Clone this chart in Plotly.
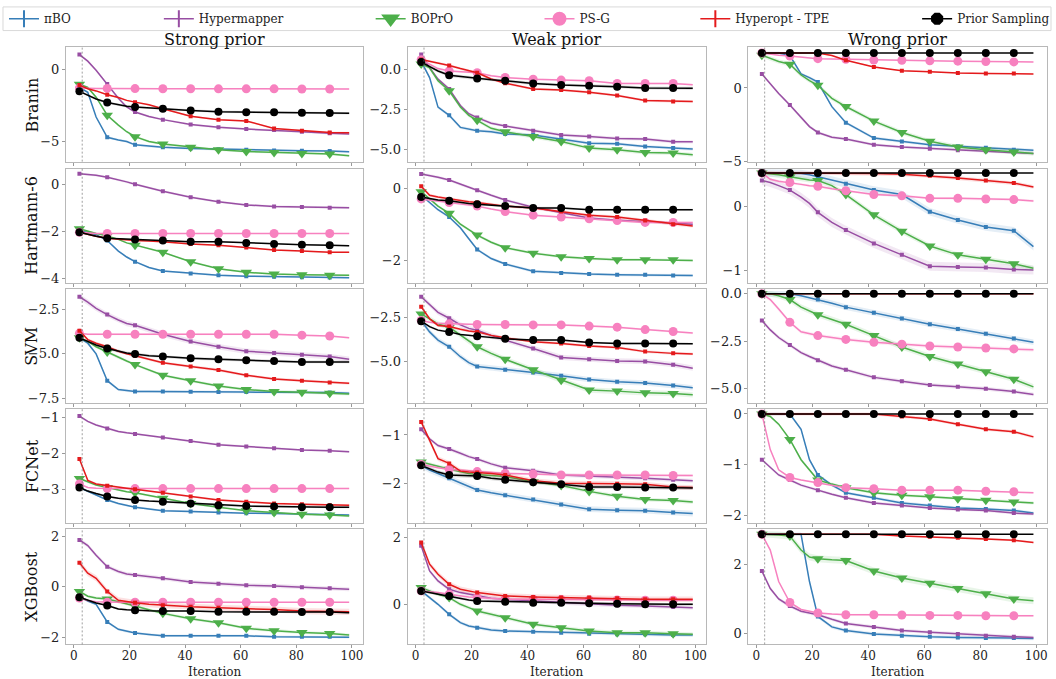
import plotly.graph_objects as go

# ---------------- data ----------------
X = [2, 5, 8, 12, 16, 19, 22, 27, 32, 42, 52, 62, 72, 82, 92, 99]
MARKER_X = [2, 12, 22, 32, 42, 52, 62, 72, 82, 92]

SERIES = ["πBO", "Hypermapper", "BOPrO", "PS-G", "Hyperopt - TPE", "Prior Sampling"]
ROW_NAMES = ["Branin", "Hartmann-6", "SVM", "FCNet", "XGBoost"]
COL_NAMES = ["Strong prior", "Weak prior", "Wrong prior"]

branin_strong = {
    "πBO": [-1.26, -1.6, -3.29, -4.68, -4.86, -4.97, -5.2, -5.3, -5.36, -5.45, -5.5, -5.54, -5.59, -5.61, -5.63, -5.68],
    "Hypermapper": [0.99, 0.54, -0.09, -1.03, -2.0, -2.6, -2.95, -3.25, -3.47, -3.81, -4.0, -4.12, -4.19, -4.3, -4.41, -4.45],
    "BOPrO": [-1.04, -1.26, -1.93, -3.17, -3.85, -4.3, -4.64, -4.97, -5.14, -5.36, -5.54, -5.66, -5.72, -5.79, -5.82, -5.95],
    "PS-G": [-1.3, -1.33, -1.33, -1.33, -1.34, -1.34, -1.34, -1.35, -1.35, -1.35, -1.36, -1.36, -1.36, -1.37, -1.37, -1.37],
    "Hyperopt - TPE": [-1.1, -1.35, -1.5, -1.76, -1.95, -2.15, -2.27, -2.45, -2.72, -3.24, -3.47, -3.56, -4.08, -4.23, -4.35, -4.37],
    "Prior Sampling": [-1.53, -1.8, -2.05, -2.3, -2.45, -2.55, -2.61, -2.68, -2.72, -2.84, -2.93, -2.97, -2.97, -3.0, -3.02, -3.03],
}
branin_weak = {
    "πBO": [0.5, -0.51, -2.35, -2.86, -3.61, -3.73, -3.82, -3.88, -4.02, -4.08, -4.35, -4.59, -4.63, -4.8, -4.9, -4.96],
    "Hypermapper": [0.92, 0.1, -0.61, -1.22, -2.25, -2.76, -3.0, -3.35, -3.53, -3.82, -4.08, -4.18, -4.3, -4.34, -4.51, -4.51],
    "BOPrO": [0.34, 0.1, -0.71, -1.33, -2.35, -2.86, -3.17, -3.67, -3.88, -4.18, -4.49, -4.9, -5.0, -5.17, -5.21, -5.31],
    "PS-G": [0.6, 0.3, 0.05, -0.1, -0.15, -0.18, -0.21, -0.4, -0.51, -0.61, -0.67, -0.71, -0.88, -0.88, -0.88, -0.96],
    "Hyperopt - TPE": [0.61, 0.5, 0.4, 0.24, 0.05, -0.1, -0.21, -0.6, -0.86, -1.22, -1.29, -1.43, -1.63, -1.94, -2.0, -2.0],
    "Prior Sampling": [0.45, 0.2, -0.1, -0.37, -0.45, -0.52, -0.57, -0.65, -0.71, -0.88, -0.98, -1.02, -1.08, -1.16, -1.16, -1.18],
}
branin_wrong = {
    "πBO": [2.38, 2.38, 2.38, 2.2, 0.95, 0.7, 0.4, -1.27, -2.36, -3.4, -3.64, -3.86, -3.95, -4.06, -4.19, -4.23],
    "Hypermapper": [0.95, 0.29, -0.37, -1.15, -2.03, -2.62, -3.02, -3.35, -3.46, -3.86, -4.01, -4.12, -4.23, -4.3, -4.39, -4.45],
    "BOPrO": [2.23, 2.0, 1.8, 1.61, 0.88, 0.5, 0.18, -0.7, -1.26, -2.25, -3.02, -3.62, -4.01, -4.19, -4.34, -4.45],
    "PS-G": [2.38, 2.3, 2.22, 2.17, 2.08, 2.03, 1.99, 1.97, 1.95, 1.9, 1.88, 1.84, 1.82, 1.8, 1.77, 1.77],
    "Hyperopt - TPE": [2.38, 2.38, 2.38, 2.38, 2.38, 2.38, 2.38, 2.2, 1.88, 1.43, 1.17, 1.1, 1.01, 0.99, 0.99, 0.95],
    "Prior Sampling": [2.38, 2.38, 2.38, 2.38, 2.38, 2.38, 2.38, 2.38, 2.38, 2.38, 2.38, 2.38, 2.38, 2.38, 2.38, 2.38],
}
hartmann_strong = {
    "πBO": [-2.0, -2.05, -2.15, -2.4, -2.85, -3.1, -3.3, -3.55, -3.7, -3.8, -3.88, -3.92, -3.94, -3.96, -3.97, -3.98],
    "Hypermapper": [0.45, 0.42, 0.38, 0.3, 0.2, 0.1, 0.0, -0.15, -0.3, -0.55, -0.75, -0.88, -0.95, -0.97, -1.0, -1.0],
    "BOPrO": [-1.9, -2.0, -2.1, -2.2, -2.35, -2.5, -2.6, -2.75, -2.9, -3.3, -3.6, -3.75, -3.83, -3.86, -3.88, -3.88],
    "PS-G": [-2.05, -2.08, -2.1, -2.1, -2.1, -2.1, -2.1, -2.1, -2.1, -2.1, -2.1, -2.1, -2.1, -2.1, -2.1, -2.1],
    "Hyperopt - TPE": [-2.05, -2.15, -2.22, -2.3, -2.35, -2.38, -2.4, -2.42, -2.45, -2.55, -2.6, -2.7, -2.8, -2.85, -2.9, -2.9],
    "Prior Sampling": [-2.05, -2.15, -2.22, -2.3, -2.32, -2.34, -2.35, -2.38, -2.4, -2.45, -2.45, -2.5, -2.55, -2.58, -2.6, -2.62],
}
hartmann_weak = {
    "πBO": [-0.2, -0.4, -0.6, -0.8, -1.1, -1.4, -1.7, -1.95, -2.1, -2.3, -2.35, -2.38, -2.4, -2.4, -2.42, -2.42],
    "Hypermapper": [0.39, 0.35, 0.3, 0.22, 0.1, 0.02, -0.06, -0.2, -0.33, -0.53, -0.67, -0.83, -0.89, -0.94, -0.97, -1.0],
    "BOPrO": [-0.1, -0.3, -0.5, -0.7, -1.0, -1.15, -1.3, -1.5, -1.65, -1.8, -1.9, -1.95, -1.98, -1.98, -1.98, -2.0],
    "PS-G": [-0.3, -0.33, -0.37, -0.4, -0.45, -0.48, -0.5, -0.58, -0.65, -0.75, -0.8, -0.85, -0.9, -0.95, -0.95, -0.95],
    "Hyperopt - TPE": [0.05, -0.2, -0.25, -0.3, -0.35, -0.38, -0.4, -0.45, -0.5, -0.55, -0.65, -0.75, -0.8, -0.9, -1.0, -1.05],
    "Prior Sampling": [-0.25, -0.3, -0.33, -0.35, -0.4, -0.43, -0.45, -0.48, -0.5, -0.55, -0.55, -0.6, -0.6, -0.6, -0.6, -0.6],
}
hartmann_wrong = {
    "πBO": [0.53, 0.53, 0.53, 0.53, 0.52, 0.5, 0.47, 0.42, 0.36, 0.26, 0.19, -0.08, -0.21, -0.32, -0.38, -0.63],
    "Hypermapper": [0.41, 0.38, 0.33, 0.26, 0.15, 0.05, -0.09, -0.25, -0.37, -0.58, -0.76, -0.94, -0.95, -0.96, -0.99, -1.0],
    "BOPrO": [0.53, 0.52, 0.5, 0.47, 0.44, 0.42, 0.41, 0.33, 0.19, -0.13, -0.39, -0.62, -0.76, -0.83, -0.9, -0.97],
    "PS-G": [0.53, 0.43, 0.4, 0.38, 0.35, 0.33, 0.32, 0.28, 0.25, 0.19, 0.17, 0.13, 0.13, 0.12, 0.11, 0.09],
    "Hyperopt - TPE": [0.53, 0.53, 0.53, 0.53, 0.53, 0.53, 0.53, 0.53, 0.53, 0.52, 0.51, 0.485, 0.45, 0.41, 0.37, 0.31],
    "Prior Sampling": [0.53, 0.53, 0.53, 0.53, 0.53, 0.53, 0.53, 0.53, 0.53, 0.53, 0.53, 0.53, 0.53, 0.53, 0.53, 0.53],
}
svm_strong = {
    "πBO": [-4.1, -4.4, -5.0, -6.5, -7.0, -7.05, -7.1, -7.1, -7.1, -7.12, -7.13, -7.14, -7.15, -7.15, -7.16, -7.2],
    "Hypermapper": [-1.8, -2.1, -2.45, -2.8, -3.1, -3.3, -3.4, -3.65, -3.9, -4.3, -4.6, -4.85, -4.95, -5.05, -5.15, -5.3],
    "BOPrO": [-4.1, -4.3, -4.6, -4.9, -5.2, -5.4, -5.6, -5.9, -6.2, -6.5, -6.8, -7.0, -7.1, -7.15, -7.2, -7.25],
    "PS-G": [-3.85, -3.9, -3.9, -3.9, -3.9, -3.9, -3.9, -3.9, -3.9, -3.9, -3.9, -3.9, -3.9, -3.95, -4.0, -4.1],
    "Hyperopt - TPE": [-3.7, -4.2, -4.4, -4.6, -4.85, -5.0, -5.1, -5.3, -5.5, -5.7, -5.9, -6.2, -6.4, -6.5, -6.6, -6.65],
    "Prior Sampling": [-4.1, -4.3, -4.5, -4.7, -4.85, -4.95, -5.0, -5.1, -5.15, -5.25, -5.3, -5.35, -5.4, -5.45, -5.45, -5.45],
}
svm_weak = {
    "πBO": [-2.65, -3.3, -3.77, -4.15, -4.72, -5.06, -5.28, -5.36, -5.47, -5.62, -5.81, -6.03, -6.16, -6.22, -6.37, -6.5],
    "Hypermapper": [-1.29, -1.71, -2.18, -2.52, -2.9, -3.1, -3.21, -3.5, -3.77, -4.25, -4.76, -4.87, -4.96, -4.99, -5.18, -5.38],
    "BOPrO": [-2.27, -2.55, -2.84, -3.03, -3.49, -3.85, -4.15, -4.53, -4.87, -5.47, -6.07, -6.63, -6.69, -6.79, -6.82, -6.9],
    "PS-G": [-2.65, -2.75, -2.8, -2.84, -2.86, -2.87, -2.88, -2.88, -2.88, -2.9, -2.9, -2.97, -3.03, -3.17, -3.28, -3.37],
    "Hyperopt - TPE": [-1.86, -2.55, -2.93, -2.99, -3.15, -3.25, -3.3, -3.5, -3.64, -3.87, -3.96, -4.11, -4.19, -4.43, -4.53, -4.56],
    "Prior Sampling": [-2.69, -3.0, -3.2, -3.3, -3.45, -3.5, -3.55, -3.65, -3.7, -3.77, -3.77, -3.91, -3.96, -3.96, -3.96, -3.98],
}
svm_wrong = {
    "πBO": [0.0, 0.0, 0.0, 0.0, -0.1, -0.2, -0.3, -0.5, -0.7, -1.0, -1.3, -1.6, -1.85, -2.1, -2.35, -2.55],
    "Hypermapper": [-1.4, -1.9, -2.3, -2.7, -3.1, -3.3, -3.5, -3.8, -4.0, -4.4, -4.6, -4.8, -4.9, -5.0, -5.15, -5.3],
    "BOPrO": [0.0, 0.0, -0.1, -0.3, -0.7, -0.9, -1.1, -1.35, -1.6, -2.2, -2.8, -3.3, -3.7, -4.1, -4.5, -4.9],
    "PS-G": [0.0, -0.3, -0.8, -1.5, -2.0, -2.1, -2.2, -2.3, -2.4, -2.55, -2.65, -2.75, -2.8, -2.85, -2.9, -2.95],
    "Hyperopt - TPE": [0.0, 0.0, 0.0, 0.0, 0.0, 0.0, 0.0, 0.0, 0.0, 0.0, 0.0, 0.0, 0.0, 0.0, 0.0, 0.0],
    "Prior Sampling": [0.0, 0.0, 0.0, 0.0, 0.0, 0.0, 0.0, 0.0, 0.0, 0.0, 0.0, 0.0, 0.0, 0.0, 0.0, 0.0],
}
fcnet_strong = {
    "πBO": [-2.95, -3.05, -3.15, -3.3, -3.4, -3.45, -3.5, -3.55, -3.6, -3.62, -3.65, -3.67, -3.68, -3.7, -3.7, -3.72],
    "Hypermapper": [-0.95, -1.1, -1.2, -1.3, -1.38, -1.42, -1.45, -1.5, -1.55, -1.65, -1.75, -1.8, -1.85, -1.9, -1.92, -1.95],
    "BOPrO": [-2.7, -2.8, -2.88, -2.95, -3.02, -3.07, -3.1, -3.18, -3.25, -3.4, -3.5, -3.6, -3.65, -3.7, -3.72, -3.75],
    "PS-G": [-2.85, -2.95, -2.97, -2.98, -2.98, -2.98, -2.98, -2.98, -2.98, -2.98, -2.98, -2.98, -2.98, -2.98, -2.98, -2.98],
    "Hyperopt - TPE": [-2.15, -2.75, -2.85, -2.9, -2.95, -2.97, -3.0, -3.05, -3.1, -3.2, -3.3, -3.35, -3.4, -3.42, -3.45, -3.45],
    "Prior Sampling": [-2.95, -3.05, -3.12, -3.2, -3.25, -3.28, -3.3, -3.33, -3.35, -3.4, -3.45, -3.47, -3.48, -3.5, -3.5, -3.5],
}
fcnet_weak = {
    "πBO": [-1.63, -1.73, -1.8, -1.9, -2.0, -2.07, -2.14, -2.2, -2.25, -2.34, -2.44, -2.54, -2.56, -2.57, -2.61, -2.63],
    "Hypermapper": [-0.88, -1.08, -1.22, -1.29, -1.38, -1.45, -1.5, -1.6, -1.68, -1.74, -1.83, -1.85, -1.87, -1.9, -1.93, -1.95],
    "BOPrO": [-1.56, -1.6, -1.65, -1.71, -1.76, -1.8, -1.82, -1.84, -1.86, -1.97, -2.05, -2.17, -2.27, -2.34, -2.36, -2.39],
    "PS-G": [-1.61, -1.65, -1.68, -1.71, -1.73, -1.75, -1.76, -1.78, -1.8, -1.81, -1.83, -1.83, -1.83, -1.83, -1.84, -1.84],
    "Hyperopt - TPE": [-0.73, -1.12, -1.49, -1.59, -1.75, -1.77, -1.78, -1.8, -1.83, -1.95, -2.0, -2.0, -2.01, -2.02, -2.08, -2.09],
    "Prior Sampling": [-1.63, -1.7, -1.77, -1.83, -1.84, -1.85, -1.85, -1.9, -1.93, -1.98, -2.02, -2.08, -2.08, -2.09, -2.09, -2.1],
}
fcnet_wrong = {
    "πBO": [0.0, 0.0, 0.0, 0.0, -0.3, -0.9, -1.2, -1.4, -1.55, -1.65, -1.75, -1.8, -1.85, -1.87, -1.9, -1.95],
    "Hypermapper": [-0.9, -1.05, -1.2, -1.3, -1.4, -1.45, -1.5, -1.58, -1.65, -1.75, -1.8, -1.85, -1.88, -1.9, -1.95, -1.97],
    "BOPrO": [0.0, -0.05, -0.2, -0.5, -0.9, -1.1, -1.3, -1.38, -1.45, -1.55, -1.6, -1.63, -1.67, -1.7, -1.73, -1.75],
    "PS-G": [0.0, -0.7, -1.1, -1.25, -1.3, -1.33, -1.35, -1.4, -1.45, -1.47, -1.5, -1.5, -1.5, -1.52, -1.53, -1.55],
    "Hyperopt - TPE": [0.0, 0.0, 0.0, 0.0, 0.0, 0.0, 0.0, 0.0, 0.0, 0.0, -0.05, -0.1, -0.2, -0.3, -0.35, -0.45],
    "Prior Sampling": [0.0, 0.0, 0.0, 0.0, 0.0, 0.0, 0.0, 0.0, 0.0, 0.0, 0.0, 0.0, 0.0, 0.0, 0.0, 0.0],
}
xgboost_strong = {
    "πBO": [-0.38, -0.57, -0.7, -1.4, -1.69, -1.78, -1.84, -1.9, -1.95, -1.95, -1.95, -1.95, -1.99, -1.99, -1.99, -2.01],
    "Hypermapper": [1.85, 1.63, 1.24, 0.79, 0.6, 0.5, 0.46, 0.4, 0.33, 0.18, 0.11, 0.05, 0.03, -0.02, -0.06, -0.1],
    "BOPrO": [-0.19, -0.38, -0.45, -0.49, -0.6, -0.7, -0.77, -0.92, -1.06, -1.27, -1.43, -1.65, -1.75, -1.82, -1.86, -1.92],
    "PS-G": [-0.45, -0.55, -0.6, -0.62, -0.62, -0.62, -0.62, -0.62, -0.62, -0.62, -0.62, -0.62, -0.62, -0.62, -0.62, -0.62],
    "Hyperopt - TPE": [0.95, 0.53, 0.33, -0.19, -0.54, -0.6, -0.64, -0.7, -0.74, -0.8, -0.84, -0.87, -0.91, -0.97, -1.0, -1.0],
    "Prior Sampling": [-0.42, -0.55, -0.65, -0.75, -0.89, -0.92, -0.94, -0.96, -0.97, -0.97, -1.0, -1.0, -1.0, -1.01, -1.01, -1.04],
}
xgboost_weak = {
    "πBO": [0.4, 0.2, 0.0, -0.3, -0.55, -0.65, -0.7, -0.77, -0.8, -0.82, -0.85, -0.88, -0.9, -0.9, -0.92, -0.92],
    "Hypermapper": [1.75, 1.0, 0.7, 0.45, 0.35, 0.3, 0.25, 0.18, 0.15, 0.1, 0.05, 0.0, -0.03, -0.05, -0.08, -0.1],
    "BOPrO": [0.5, 0.4, 0.3, 0.2, 0.0, -0.1, -0.2, -0.3, -0.4, -0.6, -0.7, -0.8, -0.85, -0.85, -0.88, -0.9],
    "PS-G": [0.4, 0.38, 0.35, 0.3, 0.25, 0.22, 0.2, 0.17, 0.15, 0.15, 0.14, 0.13, 0.13, 0.12, 0.12, 0.12],
    "Hyperopt - TPE": [1.85, 1.2, 0.9, 0.6, 0.45, 0.4, 0.35, 0.3, 0.25, 0.22, 0.2, 0.2, 0.18, 0.15, 0.15, 0.15],
    "Prior Sampling": [0.4, 0.35, 0.3, 0.25, 0.18, 0.13, 0.1, 0.09, 0.08, 0.05, 0.05, 0.03, 0.02, 0.0, 0.0, 0.0],
}
xgboost_wrong = {
    "πBO": [2.85, 2.85, 2.85, 2.85, 2.85, 1.5, 0.5, 0.2, 0.1, 0.0, -0.05, -0.08, -0.1, -0.12, -0.12, -0.13],
    "Hypermapper": [1.8, 1.3, 1.0, 0.8, 0.65, 0.6, 0.55, 0.42, 0.3, 0.2, 0.1, 0.05, 0.0, -0.05, -0.08, -0.1],
    "BOPrO": [2.85, 2.85, 2.83, 2.8, 2.4, 2.2, 2.15, 2.12, 2.1, 1.8, 1.6, 1.45, 1.3, 1.15, 1.0, 0.95],
    "PS-G": [2.85, 2.4, 1.5, 0.9, 0.7, 0.65, 0.6, 0.57, 0.55, 0.55, 0.54, 0.53, 0.53, 0.52, 0.52, 0.52],
    "Hyperopt - TPE": [2.85, 2.85, 2.85, 2.85, 2.85, 2.85, 2.85, 2.85, 2.85, 2.85, 2.8, 2.78, 2.75, 2.72, 2.68, 2.62],
    "Prior Sampling": [2.85, 2.85, 2.85, 2.85, 2.85, 2.85, 2.85, 2.85, 2.85, 2.85, 2.85, 2.85, 2.85, 2.85, 2.85, 2.85],
}

# half-width of the shaded band, order as SERIES
band_branin = [[0.08, 0.08, 0.08, 0.05, 0.06, 0.08], [0.1, 0.1, 0.12, 0.06, 0.08, 0.1], [0.1, 0.1, 0.15, 0.04, 0.04, 0.0]]
band_hartmann = [[0.04, 0.05, 0.04, 0.02, 0.03, 0.03], [0.04, 0.04, 0.04, 0.03, 0.04, 0.03], [0.06, 0.07, 0.04, 0.02, 0.03, 0.0]]
band_svm = [[0.08, 0.15, 0.08, 0.05, 0.08, 0.08], [0.15, 0.15, 0.15, 0.06, 0.08, 0.06], [0.15, 0.1, 0.15, 0.1, 0.0, 0.0]]
band_fcnet = [[0.03, 0.03, 0.03, 0.02, 0.03, 0.03], [0.06, 0.04, 0.04, 0.03, 0.05, 0.04], [0.03, 0.03, 0.03, 0.02, 0.03, 0.0]]
band_xgboost = [[0.05, 0.08, 0.06, 0.02, 0.12, 0.04], [0.05, 0.06, 0.06, 0.03, 0.08, 0.04], [0.05, 0.05, 0.1, 0.03, 0.03, 0.0]]

PANELS = [
    [branin_strong, branin_weak, branin_wrong],
    [hartmann_strong, hartmann_weak, hartmann_wrong],
    [svm_strong, svm_weak, svm_wrong],
    [fcnet_strong, fcnet_weak, fcnet_wrong],
    [xgboost_strong, xgboost_weak, xgboost_wrong],
]
BANDS = [band_branin, band_hartmann, band_svm, band_fcnet, band_xgboost]

Y_RANGES = [
    [[-6.35, 1.49], [-5.74, 1.37], [-5.0, 2.76]],
    [[-4.2, 0.67], [-2.62, 0.54], [-1.2, 0.6]],
    [[-7.75, -1.35], [-7.37, -0.83], [-5.75, 0.27]],
    [[-3.95, -0.75], [-2.83, -0.46], [-2.15, 0.1]],
    [[-2.29, 2.28], [-1.2, 2.25], [-0.3, 3.0]],
]
Y_TICKS = [
    [[0, -5], [0.0, -2.5, -5.0], [0, -5]],
    [[0, -2, -4], [0, -2], [0, -1]],
    [[-2.5, -5.0, -7.5], [-2.5, -5.0], [0.0, -2.5, -5.0]],
    [[-1, -2, -3], [-1, -2], [0, -1, -2]],
    [[2, 0, -2], [2, 0], [2, 0]],
]
Y_TICKTEXT = [
    [["0", "−5"], ["0.0", "−2.5", "−5.0"], ["0", "−5"]],
    [["0", "−2", "−4"], ["0", "−2"], ["0", "−1"]],
    [["−2.5", "−5.0", "−7.5"], ["−2.5", "−5.0"], ["0.0", "−2.5", "−5.0"]],
    [["−1", "−2", "−3"], ["−1", "−2"], ["0", "−1", "−2"]],
    [["2", "0", "−2"], ["2", "0"], ["2", "0"]],
]
X_TICKS = [0, 20, 40, 60, 80, 100]

# ---------------- style ----------------
W, H = 1056, 679
COLORS = {
    "πBO": "#377eb8", "Hypermapper": "#984ea3", "BOPrO": "#4daf4a",
    "PS-G": "#f781bf", "Hyperopt - TPE": "#e41a1c", "Prior Sampling": "#000000",
}
SYMBOL = {"πBO": "square", "Hypermapper": "square", "BOPrO": "triangle-down",
          "PS-G": "circle", "Hyperopt - TPE": "square", "Prior Sampling": "circle"}
MSIZE = {"πBO": 4, "Hypermapper": 4, "BOPrO": 10, "PS-G": 9, "Hyperopt - TPE": 4, "Prior Sampling": 8}
LEG_SYMBOL = {"πBO": "line-ns-open", "Hypermapper": "line-ns-open", "BOPrO": "triangle-down",
              "PS-G": "circle", "Hyperopt - TPE": "line-ns-open", "Prior Sampling": "octagon"}
LEG_SIZE = {"πBO": 12, "Hypermapper": 12, "BOPrO": 13, "PS-G": 12, "Hyperopt - TPE": 12, "Prior Sampling": 11}
LEG_TEXT_X = [44, 199, 411, 580, 736, 958]

COL_PX = [(66, 363), (408, 707), (749, 1048)]
ROW_PX = [(46, 162), (169, 285), (291, 407), (413, 529), (535, 652)]
FONT = "DejaVu Serif"
FRAME = "#b8b8b8"


def rgba(hexc, a):
    h = hexc.lstrip("#")
    return "rgba(%d,%d,%d,%s)" % (int(h[0:2], 16), int(h[2:4], 16), int(h[4:6], 16), a)


fig = go.Figure()
layout = {}
shapes = []
annotations = []
mark_idx = [X.index(v) for v in MARKER_X]

for r in range(5):
    for c in range(3):
        k = r * 3 + c + 1
        xa = "x" if k == 1 else "x%d" % k
        ya = "y" if k == 1 else "y%d" % k
        data = PANELS[r][c]
        bands = BANDS[r][c]
        for si, name in enumerate(SERIES):
            vals = data[name]
            col = COLORS[name]
            bw = bands[si]
            if bw > 0:
                up = [v + bw for v in vals]
                lo = [v - bw for v in vals]
                fig.add_trace(go.Scatter(
                    x=X + X[::-1], y=up + lo[::-1], fill="toself",
                    fillcolor=rgba(col, 0.13), line=dict(width=0),
                    mode="lines", showlegend=False, hoverinfo="skip",
                    xaxis=xa, yaxis=ya))
            fig.add_trace(go.Scatter(
                x=X, y=vals, mode="lines", line=dict(color=col, width=1.5),
                showlegend=False, xaxis=xa, yaxis=ya, name=name))
            fig.add_trace(go.Scatter(
                x=[X[i] for i in mark_idx], y=[vals[i] for i in mark_idx],
                mode="markers",
                marker=dict(color=col, symbol=SYMBOL[name], size=MSIZE[name], line=dict(width=0)),
                showlegend=False, xaxis=xa, yaxis=ya, name=name))
        x0, x1 = COL_PX[c]
        y0, y1 = ROW_PX[r]
        axkey = "xaxis" if k == 1 else "xaxis%d" % k
        aykey = "yaxis" if k == 1 else "yaxis%d" % k
        layout[axkey] = dict(
            domain=[x0 / W, x1 / W], anchor=ya, range=[-2.85, 103.85],
            tickvals=X_TICKS, showticklabels=(r == 4), ticks="outside", ticklen=3,
            ticklabelstandoff=-3,
            tickcolor="#999", showline=True, mirror=True, linecolor=FRAME, linewidth=1,
            showgrid=False, zeroline=False, tickfont=dict(family=FONT, size=12, color="#222"))
        layout[aykey] = dict(
            domain=[1 - y1 / H, 1 - y0 / H], anchor=xa, range=Y_RANGES[r][c],
            tickvals=Y_TICKS[r][c], ticktext=Y_TICKTEXT[r][c], ticks="outside", ticklen=3,
            tickcolor="#999", showline=True, mirror=True, linecolor=FRAME, linewidth=1,
            showgrid=False, zeroline=False, tickfont=dict(family=FONT, size=13, color="#222"))
        shapes.append(dict(type="line", xref=xa, yref=ya + " domain", x0=3, x1=3, y0=0, y1=1,
                           line=dict(color="#777", width=0.7, dash="2px,2px")))

# legend entries (one legend per entry, positioned like the reference)
for si, name in enumerate(SERIES):
    lg = "legend" if si == 0 else "legend%d" % (si + 1)
    fig.add_trace(go.Scatter(
        x=[None], y=[None], mode="lines+markers", name=name, legend=lg,
        line=dict(color=COLORS[name], width=1.5),
        marker=dict(color=COLORS[name], symbol=LEG_SYMBOL[name], size=LEG_SIZE[name],
                    line=dict(color=COLORS[name], width=2))))
    layout[lg] = dict(x=(LEG_TEXT_X[si] - 40) / W, y=1 - 17 / H, xanchor="left", yanchor="middle",
                      bgcolor="rgba(0,0,0,0)", borderwidth=0, itemwidth=30,
                      font=dict(family=FONT, size=12, color="#222"))

shapes.append(dict(type="rect", xref="paper", yref="paper", x0=3 / W, x1=1052 / W,
                   y0=1 - 29 / H, y1=1 - 5 / H, line=dict(color="#d9d9d9", width=1)))

for c, title in enumerate(COL_NAMES):
    cx = (COL_PX[c][0] + COL_PX[c][1]) / 2 / W
    annotations.append(dict(text=title, x=cx, y=1 - 38 / H, xref="paper", yref="paper",
                            showarrow=False, xanchor="center", yanchor="middle",
                            font=dict(family=FONT, size=16, color="#111")))
    annotations.append(dict(text="Iteration", x=cx, y=1 - 672 / H, xref="paper", yref="paper",
                            showarrow=False, xanchor="center", yanchor="middle", yshift=-8,
                            font=dict(family=FONT, size=12, color="#222")))
for r, rn in enumerate(ROW_NAMES):
    cy = 1 - (ROW_PX[r][0] + ROW_PX[r][1]) / 2 / H
    annotations.append(dict(text=rn, x=32 / W, y=cy, xref="paper", yref="paper",
                            showarrow=False, xanchor="center", yanchor="middle", textangle=-90,
                            font=dict(family=FONT, size=16, color="#111")))

fig.update_layout(
    width=W, height=H, margin=dict(l=0, r=0, t=0, b=0),
    paper_bgcolor="white", plot_bgcolor="white",
    shapes=shapes, annotations=annotations, showlegend=True,
    **layout)

fig.write_html("out.html")
